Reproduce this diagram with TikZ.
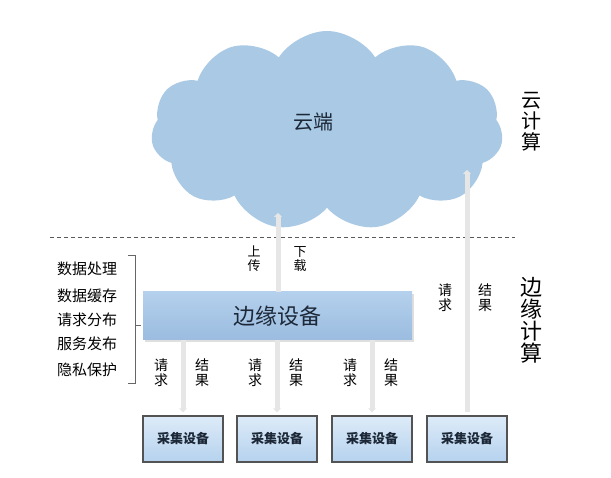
\documentclass[tikz,border=0pt]{standalone}
\usepackage{fontspec}
\setmainfont{Noto Sans CJK SC}
\usetikzlibrary{shapes.symbols,arrows.meta,shadows}
\definecolor{cloudblue}{HTML}{A9C9E4}
\definecolor{edgetop}{HTML}{B4D0EC}
\definecolor{edgebot}{HTML}{9BBCE0}
\definecolor{flowgray}{HTML}{E6E6E6}
\definecolor{devtop}{HTML}{DDEBF8}
\definecolor{devbot}{HTML}{B5D2EE}
\definecolor{navytext}{HTML}{1C2838}
\tikzset{
  flow/.style={flowgray, line width=5pt, -{Triangle[width=8pt,length=4pt]}},
  devbox/.style={draw=gray!65!black, line width=1.3pt, top color=devtop, bottom color=devbot,
    minimum width=80pt, minimum height=46pt, inner sep=0pt, text=navytext,
    font=\fontsize{13}{13}\selectfont\bfseries},
  vlbl/.style={align=center, inner sep=0pt, font=\fontsize{14}{15}\selectfont},
  tasklbl/.style={inner sep=0pt, font=\fontsize{15}{15}\selectfont},
}
\begin{document}
\begin{tikzpicture}[x=1pt,y=-1pt]
  \useasboundingbox (0,0) rectangle (611,478);
  % cloud
  \node[cloud, cloud puffs=11, cloud puff arc=115, aspect=1.8, fill=cloudblue,
    minimum width=352pt, minimum height=200pt] (cloud) at (327,131) {};
  \node[text=navytext, font=\fontsize{20}{20}\selectfont] (cloudtxt) at (313,122) {云端};
  \node[align=center, inner sep=0pt, font=\fontsize{20}{21}\selectfont] (cloudcomp) at (531,122) {云\\计\\算};
  % split line
  \coordinate (splitl) at (50,237);
  \coordinate (splitr) at (515,237);
  \draw[gray!70!black, dash pattern=on 4pt off 3pt] (splitl) -- (splitr);
  % edge device
  \node[top color=edgetop, bottom color=edgebot, drop shadow={opacity=0.25, shadow xshift=2pt, shadow yshift=-2pt},
    minimum width=269pt, minimum height=48pt, text=navytext, font=\fontsize{22}{22}\selectfont] (edge) at (277.5,316) {边缘设备};
  \node[align=center, inner sep=0pt, font=\fontsize{22}{22}\selectfont] (edgecomp) at (531,320) {边\\缘\\计\\算};
  % tasks
  \node[tasklbl] (t1) at (87,269) {数据处理};
  \node[tasklbl] (t2) at (87,296) {数据缓存};
  \node[tasklbl] (t3) at (87,320) {请求分布};
  \node[tasklbl] (t4) at (87,344) {服务发布};
  \node[tasklbl] (t5) at (87,370) {隐私保护};
  \draw[gray!80!black, line width=0.8pt] (128,255) -- (135,255) -- (135,383) -- (128,383);
  \draw[gray!80!black, line width=0.8pt] (135,325) -- (141,325);
  % devices
  \node[devbox] (dev1) at (183,439) {采集设备};
  \node[devbox] (dev2) at (277,439) {采集设备};
  \node[devbox] (dev3) at (372,439) {采集设备};
  \node[devbox] (dev4) at (467,439) {采集设备};
  % up / down
  \coordinate (upend) at (278,213);
  \draw[flow] (edge.north -| upend) -- (upend);
  \node[vlbl, font=\fontsize{13}{14}\selectfont] (upl) at (254,259) {上\\传};
  \node[vlbl, font=\fontsize{13}{14}\selectfont] (downl) at (300,259) {下\\载};
  \foreach \i/\x in {1/183,2/277,3/372}{
    \draw[flow, shorten >=3pt] (edge.south -| dev\i.north) -- (dev\i.north);
    \node[vlbl] (req\i) at (\x-22,373) {请\\求};
    \node[vlbl] (res\i) at (\x+19,373) {结\\果};
  }
  \coordinate (cloudend) at (467,170);
  \draw[flow, shorten <=3pt] (dev4.north) -- (cloudend);
  \node[vlbl] (req4) at (445,298) {请\\求};
  \node[vlbl] (res4) at (485,298) {结\\果};
\end{tikzpicture}
\end{document}
